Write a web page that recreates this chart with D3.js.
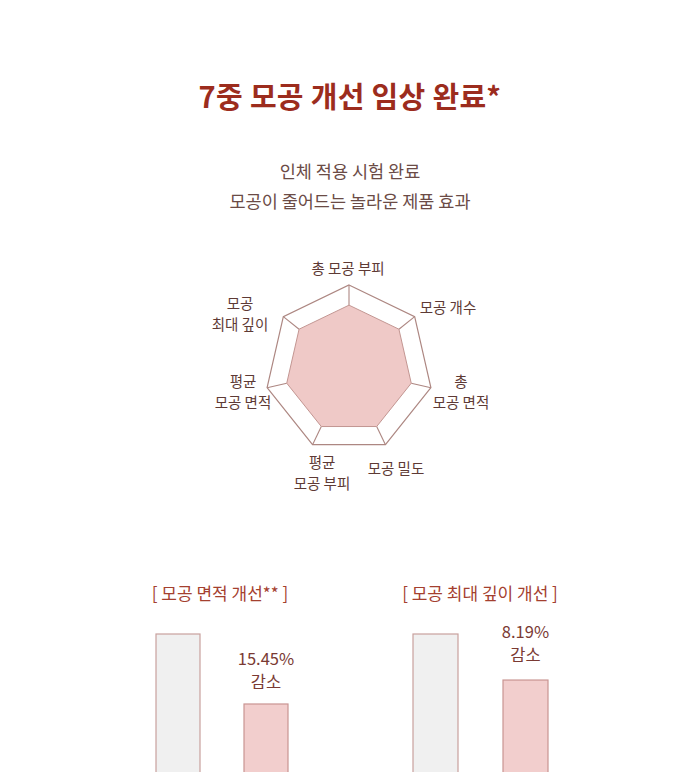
<!DOCTYPE html>
<html><head><meta charset="utf-8">
<script src="https://cdn.jsdelivr.net/npm/d3@7"></script>
<style>
body{margin:0;background:#fff;}
svg{display:block;font-family:"Noto Sans CJK KR","Noto Sans",sans-serif;}
</style></head>
<body>
<script>
// ---- data ----
const titleText = "7중 모공 개선 임상 완료*";
const subtitleLines = ["인체 적용 시험 완료", "모공이 줄어드는 놀라운 제품 효과"];
const radarAxes = [["총 모공 부피"], ["모공 개수"], ["총", "모공 면적"], ["모공 밀도"], ["평균", "모공 부피"], ["평균", "모공 면적"], ["모공", "최대 깊이"]];
const radarValues = [76, 76, 76, 76, 76, 76, 76];
const radarMax = 100;
const barChartTitles = ["[ 모공 면적 개선** ]", "[ 모공 최대 깊이 개선 ]"];
const barCategories = ["사용 전", "사용 후"];
const areaValues = [100, 84.55];
const depthValues = [100, 91.81];
const reductionLabels = [["15.45%", "감소"], ["8.19%", "감소"]];

const W = 700, H = 772;
const svg = d3.select("body").append("svg").attr("width", W).attr("height", H);

svg.append("text").attr("x", 350).attr("y", 108).attr("text-anchor", "middle")
  .attr("font-size", 29).attr("font-weight", 700).attr("fill", "#9c2c1d")
  .attr("letter-spacing", "0.3").text(titleText);

svg.selectAll(".sub").data(subtitleLines).join("text")
  .attr("x", 350).attr("y", (d, i) => 178 + i * 30).attr("text-anchor", "middle")
  .attr("font-size", 17.5).attr("fill", "#6b4b46").text(d => d);

// ---- radar ----
const cx = 349, cy = 369, R = 84;
const n = radarAxes.length;
const ang = d3.scaleLinear().domain([0, n]).range([-Math.PI / 2, 3 * Math.PI / 2]);
const rScale = d3.scaleLinear().domain([0, radarMax]).range([0, R]);
const pt = (i, r) => [cx + r * Math.cos(ang(i)), cy + r * Math.sin(ang(i))];
const g = svg.append("g");
const outerPts = d3.range(n).map(i => pt(i, rScale(radarMax)));
const innerPts = radarValues.map((v, i) => pt(i, rScale(v)));
const line = d3.line().curve(d3.curveLinearClosed);
g.append("path").attr("d", line(outerPts)).attr("fill", "#fff")
  .attr("stroke", "#ad8782").attr("stroke-width", 1.2);
g.selectAll(".spoke").data(d3.range(n)).join("line")
  .attr("x1", i => innerPts[i][0]).attr("y1", i => innerPts[i][1])
  .attr("x2", i => outerPts[i][0]).attr("y2", i => outerPts[i][1])
  .attr("stroke", "#ad8782").attr("stroke-width", 1.1);
g.append("path").attr("d", line(innerPts)).attr("fill", "#efc9c7")
  .attr("stroke", "#c39692").attr("stroke-width", 1);

const labelPos = [[348, 274, "middle"], [448, 313, "middle"], [461, 387, "middle"], [396, 474, "middle"], [322, 468, "middle"], [243, 387, "middle"], [240, 309, "middle"]];
radarAxes.forEach((lines, i) => {
  const [x, y, a] = labelPos[i];
  const t = svg.append("text").attr("x", x).attr("y", y).attr("text-anchor", a)
    .attr("font-size", 14.5).attr("fill", "#5e3a35");
  lines.forEach((l, j) => t.append("tspan").attr("x", x).attr("dy", j ? 20.5 : 0).text(l));
});

// ---- bar charts ----
const charts = [
  { title: barChartTitles[0], values: areaValues, label: reductionLabels[0], cx: 220, x0: 156, x1: 288, baseY: 1087, labelY: 665 },
  { title: barChartTitles[1], values: depthValues, label: reductionLabels[1], cx: 480, x0: 413, x1: 548, baseY: 1196, labelY: 638 }
];
charts.forEach(c => {
  svg.append("text").attr("x", c.cx).attr("y", 600).attr("text-anchor", "middle")
    .attr("font-size", 17).attr("fill", "#a4402f").text(c.title);
  const xb = d3.scaleBand().domain(barCategories).range([c.x0, c.x1]).paddingInner(0.5);
  const y = d3.scaleLinear().domain([0, 100]).range([c.baseY, 634]);
  svg.selectAll(null).data(c.values).join("rect")
    .attr("x", (d, i) => xb(barCategories[i]))
    .attr("y", d => y(d))
    .attr("width", xb.bandwidth())
    .attr("height", d => c.baseY - y(d))
    .attr("fill", (d, i) => i ? "#f2cecd" : "#f0f0f0")
    .attr("stroke", (d, i) => i ? "#c99592" : "#c8a19d")
    .attr("stroke-width", 1.2);
  const lx = xb(barCategories[1]) + xb.bandwidth() / 2;
  const t = svg.append("text").attr("x", lx).attr("y", c.labelY).attr("text-anchor", "middle")
    .attr("font-size", 16.5).attr("fill", "#7a3a33");
  c.label.forEach((l, j) => t.append("tspan").attr("x", lx).attr("dy", j ? 23 : 0).text(l));
});
</script>
</body></html>
